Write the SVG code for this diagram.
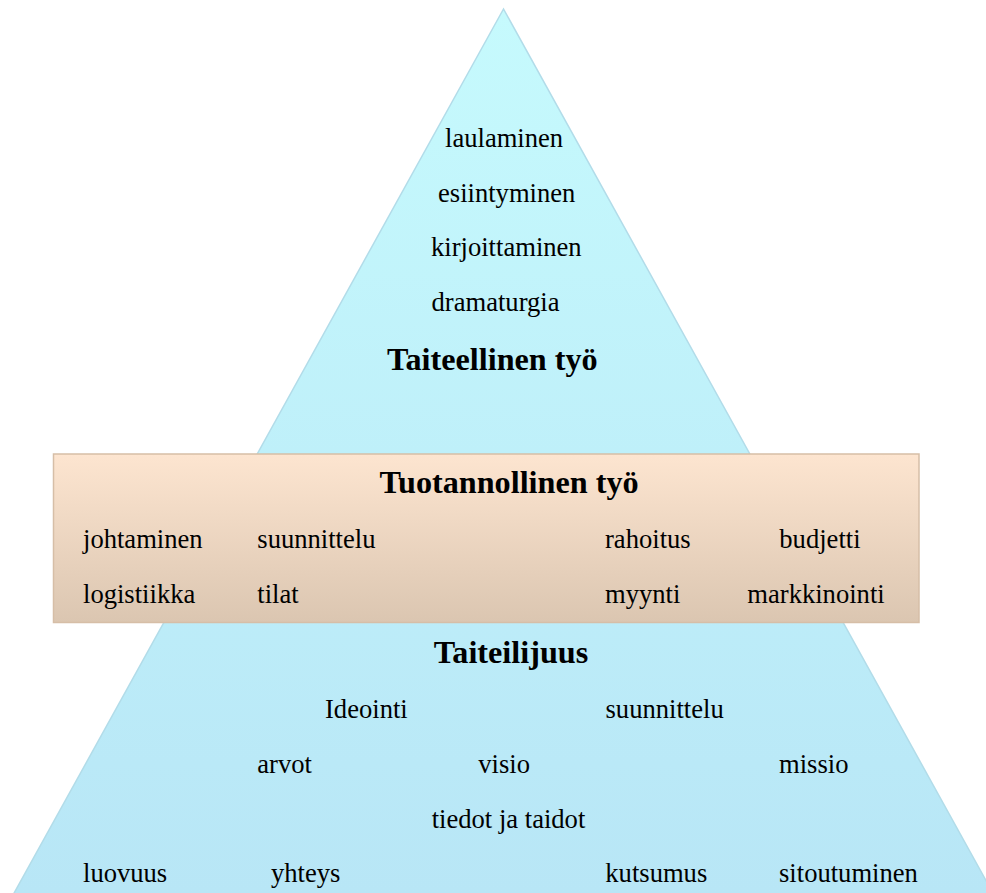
<svg xmlns="http://www.w3.org/2000/svg" width="986" height="893" viewBox="0 0 986 893">
<style>
text{font-family:"Liberation Serif","Times New Roman",serif;fill:#000}
.r{font-size:26.6px}
.b{font-size:32.2px;font-weight:bold}
</style>
<defs>
<linearGradient id="tri" x1="0" y1="9" x2="0" y2="893" gradientUnits="userSpaceOnUse">
<stop offset="0" stop-color="#C6FAFD"/>
<stop offset="1" stop-color="#B8E6F6"/>
</linearGradient>
<linearGradient id="box" x1="0" y1="0" x2="0" y2="1">
<stop offset="0" stop-color="#FDE5D0"/>
<stop offset="1" stop-color="#DBC6B1"/>
</linearGradient>
</defs>
<rect width="986" height="893" fill="#fff"/>
<g id="pyramid">
<polygon points="503.5,9 13,895 994,895" fill="url(#tri)" stroke="#B2DCE9" stroke-width="1.5"/>
</g>
<g id="taiteellinen">
<text class="r" x="445" y="147">laulaminen</text>
<text class="r" x="438" y="201.5">esiintyminen</text>
<text class="r" x="431" y="256">kirjoittaminen</text>
<text class="r" x="431.5" y="310.5">dramaturgia</text>
<text class="b" x="387" y="369.5">Taiteellinen työ</text>
</g>
<g id="tuotannollinen">
<rect x="53.5" y="454" width="865.5" height="168.5" fill="url(#box)" stroke="#D6BEA7" stroke-width="1.5"/>
<text class="b" x="379.5" y="492.5">Tuotannollinen työ</text>
<text class="r" x="83" y="548">johtaminen</text>
<text class="r" x="257.3" y="548">suunnittelu</text>
<text class="r" x="605" y="548">rahoitus</text>
<text class="r" x="779.3" y="548">budjetti</text>
<text class="r" x="83" y="602.5">logistiikka</text>
<text class="r" x="257.3" y="602.5">tilat</text>
<text class="r" x="605" y="602.5">myynti</text>
<text class="r" x="747.3" y="602.5">markkinointi</text>
</g>
<g id="taiteilijuus">
<text class="b" x="433.8" y="663">Taiteilijuus</text>
<text class="r" x="325" y="717.8">Ideointi</text>
<text class="r" x="605.5" y="717.8">suunnittelu</text>
<text class="r" x="257.3" y="772.8">arvot</text>
<text class="r" x="478.3" y="772.8">visio</text>
<text class="r" x="779" y="772.8">missio</text>
<text class="r" x="431.7" y="827.5">tiedot ja taidot</text>
<text class="r" x="83" y="882">luovuus</text>
<text class="r" x="271" y="882">yhteys</text>
<text class="r" x="605.3" y="882">kutsumus</text>
<text class="r" x="779" y="882">sitoutuminen</text>
</g>
<g id="connectors"></g>
</svg>
